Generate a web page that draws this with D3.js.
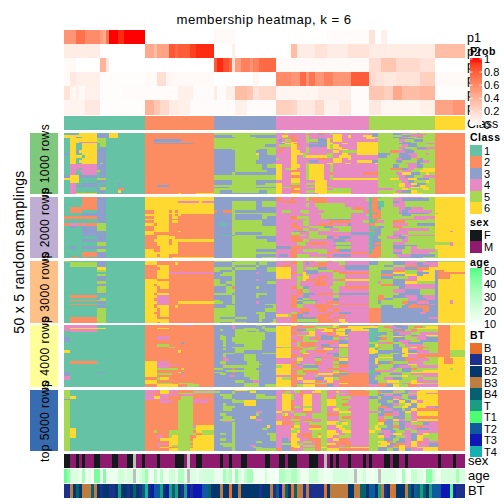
<!DOCTYPE html>
<html><head><meta charset="utf-8"><script src="https://cdn.jsdelivr.net/npm/d3@7"></script>
<style>html,body{margin:0;padding:0;background:#fff}svg{display:block}text{font-family:"Liberation Sans",sans-serif;fill:#000}rect{shape-rendering:crispEdges}</style></head><body>
<script>
// Class labels of the columns, as run lengths
const classCounts=[27,23,21,31,22,10];
const classColors={a:"#66C2A5",b:"#FC8D62",c:"#8DA0CB",d:"#E78AC3",e:"#A6D854",f:"#FFD92F"};
const classLabels=["1","2","3","4","5","6"];
// Membership probabilities: "startColumn:value" runs
const p1="0:.55 4:.72 7:.6 12:.5 13:.45 14:.7 15:1 18:.95 20:1 27:0 50:.03 57:0 88:.02 102:.15 104:0 106:.08 108:0";
const p2="0:.1 12:0 27:.45 30:.35 31:.48 35:.82 37:.75 38:.8 42:.9 44:.95 50:0 56:.08 57:0 75:.02 76:.35 78:.1 84:.15 88:.1 95:.15 102:.1 124:.35";
const p3="0:.03 4:0 12:.4 14:.12 15:0 50:.8 51:.95 53:.85 55:.75 56:.15 57:.5 59:.65 62:.55 63:.65 65:.75 71:.03 102:.18 106:.3 111:.2 119:.15 124:0";
const p4="0:.03 2:.12 4:.08 12:.01 27:.03 31:.17 34:.05 36:.03 50:0 63:.05 65:0 71:.6 76:.55 79:.75 81:.55 82:.7 84:.55 87:.65 90:.55 96:.8 102:.2 104:.15 107:.12 111:.15 119:.25 124:.03";
const p5="0:.15 2:.05 4:.08 5:.03 7:.07 12:.01 19:.02 27:.02 38:.08 43:.02 50:.1 51:.02 54:.08 57:.35 61:.3 63:.15 65:.2 71:.05 85:.09 96:.02 102:.3 107:.25 110:.45 113:.35 119:.38 124:.01";
const p6="0:.06 7:.12 12:.01 27:.4 30:.3 32:.2 35:.1 38:.08 42:.02 57:.08 61:.02 71:.25 76:.22 78:.12 84:.2 87:.07 92:.12 96:.02 102:.12 106:.05 119:.08 124:.48 130:.55";
const probRows=[p1,p2,p3,p4,p5,p6];
const probLabels=["p1","p2","p3","p4","p5","p6"];
const probTicks=[0,.2,.4,.6,.8,1];
// Annotation tracks: "startColumn:value" runs
const sexRuns="0:F 2:M 4:F 5:M 6:F 7:M 10:F 12:M 16:F 18:M 21:F 23:N 24:M 26:F 27:M 31:F 32:M 37:F 40:M 41:N 42:M 44:F 46:M 52:F 53:M 55:F 56:M 59:F 61:M 67:F 69:M 72:F 74:M 75:F 78:M 82:F 85:M 87:N 88:M 89:F 90:M 91:F 92:M 95:F 96:M 100:F 101:M 102:F 103:M 107:F 109:M 110:F 112:M 114:F 115:M 125:F 126:M 130:F 131:M";
const ageRuns="0:46 1:38 2:22 3:20 5:16 6:34 7:14 8:18 9:12 10:44 12:14 13:42 14:16 18:24 20:18 21:22 23:N 24:18 25:22 26:28 27:36 28:15 30:30 31:14 32:30 33:15 35:24 37:16 38:32 40:18 41:N 42:20 44:16 45:22 47:24 50:16 53:34 54:24 55:32 56:12 57:38 58:22 59:16 60:26 61:34 63:14 67:24 68:14 71:12 72:32 74:26 76:32 78:24 79:15 82:26 85:18 87:14 88:16 90:22 95:20 97:N 98:18 100:24 101:15 104:18 105:N 106:20 111:14 113:34 114:14 116:26 118:20 120:14 121:40 123:26 124:14 126:22 131:34 132:22";
const btRuns="0:B1 2:B3 3:B2 4:B4 5:B2 6:B3 9:B4 10:B3 11:B2 12:B1 13:B2 15:B1 17:B2 18:T 19:B2 21:B1 22:B2 23:B4 24:B2 25:B1 26:B4 27:T4 28:B2 29:T3 30:T2 32:T 33:B2 34:T3 35:T 36:B4 37:T 38:B2 39:B1 40:T 41:T3 42:B1 43:T3 46:T2 48:B4 49:B2 52:B3 53:B2 55:B 56:B2 58:B3 59:B2 65:B1 66:B2 69:B3 70:B1 71:B4 72:T3 73:B3 74:B4 75:B2 76:B 77:B4 78:B3 80:B1 81:B3 82:B1 87:B 88:B2 89:B3 95:B2 97:B3 99:B4 101:B2 102:T2 104:B2 105:T 106:B3 107:B1 108:B2 109:B 110:B3 111:B2 114:B3 115:B4 116:B2 117:T2 118:B4 119:T 120:B4 121:B2 122:T 123:T2 126:T3 129:T1 130:T3 131:B1";
const sexColors={F:"#14191C",M:"#8E1B6E"};
const btLevels=["B","B1","B2","B3","B4","T","T1","T2","T3","T4"];
const btColors=["#E9702A","#1C318C","#03366C","#BE7C3F","#05606F","#1A9E83","#4CFF70","#0F5A9E","#0F17B5","#17B0B0"];
const ageTicks=[10,20,30,40,50];
const naColor="#BEBEBE";
// Consensus membership per block: "repeat:" then class-letter + start column runs
const block1=[
"1:a0f5a11f15a18b27e50d71e74d75e81d82b85d88e89d90c103e105c110d113e116c118e119b124",
"1:a0c2a4f5c11f15a18b27e50d71b73d74b81d82c85d87e89f90d93c103e105c110e113d116e121b124",
"1:f0c11f15a18b27c50e56c62d71f73d75b76d78e81d82f90d93f95d96f100c103e105e110c113d116b118e120b124",
"1:f0c4a5f6c11f15a18b27c50e57c64d71e73b75d77e81d82f90d93f95d96f101e105c110d113e115c118e120b124",
"1:a0f2e11a14b27e50d71b74d75b76d78e81d82c85d87f88e89f90d93f101d104e105c112e117b124",
"2:a0f2e11a14b27c30e38c38b39e50d71c72d73e74d76b76d78e81c85f88d89f90d93e105d112e114c117e120b124",
"1:a0f2d5e11a14b27e50d71f73d74f76d78e81c82f88e89d90f98e105c113e116e119b124",
"1:a0f2a4f6a11e12a14b27c30b39c39b43e50d71c72f74d77c85f88d90f93d95f98f101e105c112e118d121b124",
"2:a0f2a4f6a11e12a14b27e50c67d71e72d76f76b78d79c82f88e89f90d92f98e105d113c115e118b124",
"2:a0f2a4f6a11c12a14b27e50d71b72d74f76d78e81d82f88e89f90d93f98e105d112e114c118d121b124",
"1:a0f2a4f6c11a14b27c50e56c65e68d71f76d78e81d82e89d90f92d95f98f101e105c113e116d118e122b124",
"2:a0f2c4f5c11a14b27c50e57c64e68d71b72d73f76d79e81d82d88f90d92e93f98f103e105b109d112c114e117b124",
"2:c0a2f2a4f6c11a14b27c50e57f64c65e68d71f76e80d81e88d90f93d95f98c105e109c112d115e118d121e122b124",
"2:a0f2a6f7c11a14b27c50e57c65d71f76d78e80f81e88d90f92d96c105e108c112d116e118b124",
"2:a0f2a4f6c11a14b27c50e57c65e71d72f76d78d82b85d88f90d93f95d96e105d111c113e116b118c119e120b124",
"2:a0f2a4f5c11a14b27c50e57e64c64d71f76d78c82d85f90d93f98c103e105c111e113c118d120e122b124",
"1:a0f2a4f6c11e12c13a14b27c50e57c64d70f76d78e81d82f88d90f94d96f104e105e110d114c118e119b124",
"3:a0d2c11a14b27c50e57c66e68d71f71d73f76d79e81f82d87e89d90d96e105c110e112d115c118e120b124",
"2:a0d2a5d6c11a14b27c50e57c66d71f71d73e74f76d78e81f82d87e89d90e105b109c113d115e117f120b124",
"1:a0a2d2a4d5e11c12a14b27c50e57c68d71f71d73b76d79e81f82d87e89d90d98e105d113e116f119b124",
"3:a0d2a4d6a11c12a14b27c50e56c57d71f71d73f76d79e81f82d87b89d90b100e105d111f113c116e119f121e122b124",
"2:c0f2c5a11c12a14b27e50d71f71d73b76d79e81f82d87e89d90e105d112c114e117d120b124",
"2:f0f2a5e11a14b27e50d71f71d73f76d79e81f82d87e89f90e105f109d112f115c118e122b124",
"2:a0f2a5c11a14b27c50e56c64d71d73f76d79d82f84d88d96e105d113c115e117f121e122b124",
"2:a0d2a4c6a11a14c18a19b27c50e56c64e67d71f71d73e76d79e81f84d88e105f112d114f116c118e121b124",
"1:a0d2c4a11c12a14a17b27b30c31b35e50d71f71d73b76d79f84d88d90d96e105e110f112d114c117f119e121b124",
"1:a0d2a4c11e12a14c18a19b27c50e55c64d71f71e73b76d79e81f84e88d90e105e110d114f116f120e122b124",
"2:a0d2a4c11e12a14b18a20b27e50d71f71d73b76f77d79f84d88e90d96d105e110f113e115e117f120e122b124",
"2:a0d2a4c11a14f18a19b27e50c52e56c65e68d71f71d73b76d79e81f84e88d96e105d111c113f116e118b124",
"1:a0d2a4f4a11a14c18a20b27f38b39f44f45e50c52a65e68d71f71d73f76d79f85d96e105f110e112f116e120b124"
];
const block2=[
"1:a0b6c11a14f27e50c50d71b71d73b76d78e81b82d87d102a102b103a105e106d112e120f124",
"2:a0b6c11a14f27c50d71b71d73b76d77e81d82b82d88d96e101a102b103e105d110c113e122f124",
"2:a0c6b6c11a14f27d38f45d46c50e56d64c64e66d71b73d76b76d78d82b84d88d95a102b103a105e107c110d112e114f124",
"3:a0b6c11a14f27c50e56c64e66d71d73e81d82e84d94a102b103a105e107d110e114f124",
"2:a0b2a6b6c11a14f27c50e56c64e71d71d73d82e85d96b97d100a102b103c105e106d112c114d116e120f124",
"2:a0b2a6c11a14b27f30b35f36b37f38c50b50c51b53c56e56e57c57c71d71e73d76e79d82d85e87d100b101a102b103e106d112c113d115e123f124",
"1:a0c6c11a14b27f30f38e50c50e56d71e80d82e85d96a102c104b105e106c112e122e124f125",
"2:a0c6c11a14f27f30b35f36b37f38b39c50e56c57e66d71d82e86d96e101a102b103e106c113e116f124",
"2:b0c11a14b27f30b35f36b38c50e56c57e66c68d71b76e78d82e86d96a102b103e106e113d117f124",
"1:a0c11a14f27f30b35b39c50e56c57c65c68d71b76d79e81d82c88d96a102e105e110d112e121f124",
"2:a0c11a14b27f30b35f36b38c50e56c66d71e80d82b89d96e100a102b104d105e107b110e114f124",
"2:b0d2b5d6b7e11a14b27f27b30f31b35c50a52c54e56c66d71b76d78e80d82b85d90c95d96b102e104d110e115c118f124",
"2:a0c2a4c6a11e11a14b27f30b35c50e56e64e66d71b76d79e82c87e90d96a102b104c105e107b110e113f124",
"2:a0c6e11a14f27b27f30b35c50e56e66d71d76b78e80d82e85d89e92d96a102c104e106d112e122f124",
"1:a0c6c11a14f27b30f30b35f38b39c50e56d71c77d81e82d85e90d96b102c104e106d110e115f124d129f130",
"2:a0c6c11a14b27f27b30c50e56c57e66d71e76d79e82d85d90c96a102c104e106d110e115e122f124",
"1:a0c6c11a14f27b27f31b35c50a52c56e57e66d71b76e79d81e82d88b90d92d96a102c104b105e106c110e113d115f124",
"2:a0c11a14b27f31b37c50e56c64c68d71b76d79e82c88d90c92d96a102c103e105d108c112d114e115f124",
"3:a0c6c11a14b27f30b35f36c50c50e56e66c68d71b76e80d82c90d94a102c103e106e111d113e115f124",
"2:a0c11e11a14b27f31b35f36b38c50e56d71e78d81b82d88e91d96a102c103b104e106d110e114e124d129f130",
"1:a0e11a14b27f31b38b39e50c50e56d71e79d81d82c90d96a102c103e106c110e118f124d129f130",
"2:a0c2a4c6c11a14b27f32b38c50e56e66d71c71d76b76d80d88e91d96a102c103b104e106c110e114d116e118f124",
"2:a0e11a14f27b30f32b38c50e56c64c68d71b76d78e80d88b90c92d96a102b103e106d110e113d116e124f125",
"2:a0c6b6c11a14b27f27f32b38c50e56d71b76d78d82e85b88d90b96a102b103e106c110e113d116e122e124f125",
"2:a0b6c11a14f27b31f32b35c50e56c64d71c72d75b76e78d82c90d96b102b104e106d111c116e124f125",
"1:a0b2a5c11a14f27b35f36c50e56c64e66d71b76e78b88d90b95d96b102e105e107c112e120e124f125"
];
const block3=[
"1:e0a2c11a14f27b31e50c56e57d71b73e78b80e84b88e90d94c102e105c110d114e118c121e125",
"2:a0e2c11a14f27b31b35f37b38c50e56c64e65c68d71b76e78d80c81d82b85d88e92d94c102e105c110d114c118d120f125",
"2:a0e2c11a14b27f31b35c50e56c57e64c65c68d71b73d76e78d80b84d88d92b93c94e102c107e110b114c118d122f125",
"2:a0f11a14b27b31f32b35e50c56e57c64c65e68d71f71d76b78e78d80e81c85d88c94e102e106d110c114b118f122f125",
"2:a0e11a14b27f31b35c50e50c52e56c57c64c65e68d71f71d76e78d80c81e85b90d92e102c106b110e114d118f120c124b125f127",
"1:a0a11a14b27f31b35d35c50e53e56c57d64c65d71f71b76e78f80c81d85e90b92e102c106f110e114c118f122c124b125",
"2:a0e11a14b27f31b35c50e52e56c57c65d71f71d76d79f80e81d82e90d94e102b106c110f114c118f120c124b125f129",
"2:a0c11a14b27f31b35c50e56c57c64c65d71f71d76e78f80d82b85d88e90d94e102c106e110d115f118f122c124b125f129",
"2:a0c11a14f27b31b35e50c52e56c57d64c65d71d76b78e78f80b81d86b92f94e102e106c110d114f118c124f125",
"2:a0e11a14f27f30b31f31b35e50c52e54c57c64e68d71d76e78d79b84d88e90d94e102d105e106c110f114e118c124f125",
"2:a0c11a14f27b30f31b35e50c54e56c57c64d71e78d79b84d88e90d94e102b106c110d114c124f125",
"2:a0e11a14f27b31f32b35c50e54b56c57e64c65d71b76e78c80d82e89d92b94e102e106c112d114c124f125",
"3:a0e11a14f27b31b35c50e54c57c64c68d71d76b78e80d82e90d92e102e106d110c114e119c124f125",
"2:a0c11a14f27b30f31b35e50e52c56c57e64c68d71d76b78c80d84b85d90c92e102e106c112e119c124f125",
"2:a0b2a11a14f27d31b35c50e56c57e64c65d71b76d78c80d82e90d92e102b105e107c110d114c118d120c124f125",
"2:a0c11e12a14f27b30d31b35c50e56c57c64d71b76c78e80d82c90d92e102b105c107e110d115c118d121c124f125",
"1:a0b2e11a14f27b30d31b35e50c52e56c57c65d71b76e78c80d85c90d92e102c105e106e110d115c118b119c121f125d129f130",
"2:a0c11a14f27f30b31d31b35f38e50c53e56c57d64c65d71b76c78e80d84b88d92e102c105e106e110b113c115d118c122f125d129f130",
"1:a0b2a11a14f27b30d31b35c50c54c57c65e67d71b76e78d80b84d88e90b92e102e106e110c114b116c118d122c124f125",
"2:a0c11a14f27b30f31b35f37b38c50e54c57c65e70d71b76e78d80b84b88d90e102c106e110c113b115b119c122f125",
"3:a0e11a14f27b31f32b35e50c57c64e67d71d76b79d82b85d88b90d92b102c106c110c114b120c122f125",
"2:a0e11a14f27b30f32b35e50c57e64c67d71e76b78c80d82b88d90c92d96b102c106c110d119c121f125",
"2:a0e11a14f27b31f32b35e50e54c57c64e65c67d71f71e75b76c78d80b85d89b92d94b102b105c106c110f125",
"2:a0b2e11a14f27b31b35e50c52e57c61c64e65c67d71b76c78b84d88b90d92b102c106c110d122f125",
"2:a0b2e11a14f27f32b35e50e52c57c64e65c66e70d71b76e78b85d90f92d94b102b105c106c110f125",
"1:a0b2e11a14f27b31f32b35e50c52e56c61c64c66e69f70d71b76c78b84b88d92f93d95b102b105c106c110f125"
];
const block4=[
"1:d0a11b27d39b43c50d56c57e64c66d71f76b78c79e80d84b89f90a92c94d102c104e105c110d113e115e120b125f129",
"1:d0a11b27c50d56c57e66c67f71b76d78b79e84f90e91b92f95e105b107d109c111e115b117e120f121b125f129",
"1:d0f2f13a14b27f31b35c50d56c57e60c64e66d71f71b76d79e81f85b88c90b91f92a95f95a100c102e105d109c113e115f118f121b125f129",
"1:d0a11b27c50e52c53e57e64c65e67d71f71d76c78e81d84f87b90f91c94f96c102a102e105c110e114b116e118b125f129",
"1:a0d2a11b27c50e57c61e64c65e68d71f71b76b78e80f82d84f86b90e91c94d96a102c104e105b109d114e118e124b125f129",
"2:a0b27c50e57e64c67d71f71b76d78f82d84b88d90f91c94d95a102c106e108c110d112e116d119b125f129",
"1:a0b27c50e52c53e57e64c67d71f71d76e78f81d84c86d88b90f92d95a102c104e106c110e114c116d118f121b125f129",
"1:a0b27b31d31b35c50e52c54e57e64c67d71f71d76b78e80d84c86b90d92c94d95a102e105f110e113d116e122b125f129",
"2:c0a2b27d31b35c50e52e53c54e56e64c67d71f71d76b79e80d82b84c86e90d92e94d95a102c104b106e108c110e114d118c121b125f129",
"1:c0a2b27c50e53c54e56e64c66d71f71b76d78e80d85b90c92d95a102e105c110d112e116c119b125f129",
"2:a0b27b35c39b40c50e53c54e57c66d71f71d76e78b79d84b88d90c92d95e102d105b108e110d113c115e120b125f129",
"2:a0b27e31b35c50e53c54e60c66d71f71d76e78b79d84c86d89f92d95a102f104e105c110e112d114e120b125f129",
"1:a0b27e35b37c50c53e56e60c66d71e73b76e79d80e82b85c89d92d95e102b105e106c110e113f116b118e122b125f129",
"1:a0b27c50e53c54e57e60c66d71f71b76e80d84f87d90e92d95f102a104e105c110f113d115b118e120b125f129",
"2:f0a2b27f38b39c50e57c60c66d71f71d76e79d81b84d88e92d95f102c105c110f113c115d118e122b125e129",
"1:a0b27c50e53c57c64e66d71f71d76b78f80d82c88e92d95f102a104c105e109c112f114d118b125e129",
"2:a0b27c50e53c54e60c64d71f71b76d78b80d82c90e92d95c102e105c110f113d115b118b125e129",
"1:a0b27c50d53c54e60c64d71f71d76b76e78d80c84b86e90d92d95c102f105c110d115b118e121f125b127f129",
"2:a0b27c50e53d53c55e60c64d71d76f78d80e84d86b90f92d95c102f104e105c110b114d118e122f125b127b129f130",
"2:a0b2a11b27f27d31b35c50e52c54e61c65d71b76e78d79b84d86e90c92d95c102f104c105b109e110d115e120f125b127b129f130",
"1:a0b27f27d31b39c50d53c54e61c66d71f71d76c78e80b84d86b90b92d95c102b104e106c110f115d118e120f125",
"2:a0b27f27d31b35c50e53e60c65d71e71f73b76d78c80d85e90b92d95c102e105c110d112e116d118f125",
"2:a0b27f27e31b38f39b40c50e50c53b56c57e60c64d71f71d76b78e80d85b88d92d95c102e104d109e111c113b116e118f125e129f130",
"1:a0b27f27b31c50e54e60c65d71f71b76e78b80d85e90b92d95a102b104d106e110c113e116f120f125",
"1:c0a2c11a14b27f27b31f38c39b40e50c53b56c57e60c65d71f71d76e78b80d85f90e92d95a102c104e106d110e113f116f125",
"1:c0a2b27f27e31b36c50e52c54e60c65d71f71b76e78d81f85b90c92d95b95a102c104e106c109e113d116f125",
"1:c0a2b27f27b31b38d39b40c50c53d55c57e60c65d71b76d80e84d85c90b92b95c102d104e105f113e115d120f125",
"1:d0a2b27f27b31b38d39b40c50c53d55c57e60c65d71b76d80e84d85c90b92b95c102d104e105f113e115d120f125",
"2:d0a2b27e31f32b35b37c50c54c60e62c65d71f71e73b76f78d80c84f87e90b92b95c102e104d107c110e113d118e120f125",
"2:a0b27f27b31c50e57c60d63c65d71f71b76d78f80b84d86f88d90b92b95c102e105f108e112f116d118f125",
"1:a0b27f27e31b36f38e38b43c50e60c65d71f71b76c78d80e84b88d90f92b95c102b105d107e110d113f116e120f125",
"2:a0b27f31b38e41b45c50e60c65e67d71f71b76e78f80b84c88d90b92b95d102b105c108f110e112b115d118f125"
];
const block5=[
"1:e0a2d27b31f32d35b38d43c50f57e61c64d71b73d75e77b79d82f84d86e86d88b90d92b95e101c105d110e112c114d116f119b125",
"1:e0a2d27b31f32d35b38e43c50e50c52e56c57f62c64d71e74d76e77b79d80f83e86d88f91d92b95e102b105c106e110c114d115f118b125",
"1:e0a2d27b28d31f32b35e38d43c50e56c57c64d71e73d75b79d80b84e86b88d90e92d94b96e102b105e106d110c113e115f118d121b125",
"2:e0a2d27b30d32b38d39b43c50e52c56c57e64c67d71f73e76d77b79f80d83e86d88e91d92b95e102c105d107c110e113d115f118b125",
"2:e0a2f2a4d27f30d32b35b38e39b43c50e53c56c57e64d71f73e76d77f80d83e86d88b90e91d96c102e105c106d110e113c115f118b125",
"1:c0e2a2d27d31b33b38e39d43c50e56c57c64d71f73e76d77f80d83e86f88e91b93d95e102b105c106f110c112e114d116f118b125",
"2:e0a2b27d32b36e38b43d43b48c50e56c60f60c64d71f73b76d77f80d83e86f88e91d95e102c105e108c110f112c114f116d118f120b125",
"2:e0a2b27e38b43c50e53c54c60f60c64d71f73b76d77f80d83e86f88e91b93d95e102e105c106d110e112f114c116f118b125",
"2:e0a2b27e38b43c50e53e56c57c64d71f73b76e77d79e80d83e86d88e91d96e102b105c108e110f113c115f118d121c124b125",
"2:e0a2b27e38b43c50e53c56c57c64d71f73b76d77f80d83e86d88f90e92d95e102c105d107c110e113c114f116b118b125",
"2:e0a2b27b38e38b43c50c53c56c57d64c66d71f71d73e76d77b80d83e86d88e92f92d96d102e105c106d110c112f114d116f118b125",
"2:e0a2b27e38b43c50e52c54c57c60e64c65d71e73f74d75e77d81e83e86b88e92d96e102c105b107d110c112e114d116f118b125",
"2:e0a2b27e38b43c50e53c56c57f62c64d71b73d76b77d79e83e86d88e92b93d96e102d105e107c110c112e114d116b118b125",
"2:e0a2b27e38b43c50e52e56c57c60d64c66d71d73e76d79b80d83e86d88e92d96e102b105c108f110d112e114d116f118b125",
"1:e0a2b27e38b43c50d53c56c57c62d71f71b73b76d79e80d83e86f88d92e94d96e102b105c107d110c112f116d118b125",
"2:e0a2b27e38b43c50e56c57c64d71f71b73d76e77d79e82e86f88e91f93e95d96e102f105c107e110c112d114e116c120d122b125",
"2:e0a2b27b37e38d43f44c50e56c57f68c69d71b76f77d79b82e86d88f91e93d96e102f104e105c108b110c112d114d116b118d120b125",
"2:e0f2a4b27e38f44c50e56c57c64e66c68d71f76e77d79f82e86d88f92e94d96e102f104c106e110c112e114d116c118d122b125",
"2:e0f2a4b27e30b31e35b38e38b43f44e46b50c50e56c57c64d71e76f78d79e83e86f88d91f93d96f102e104d106c109e111d114e116d118b125",
"2:e0f2a4b27e35b38e38b44e46c50c51e52c54e56c57c65e68d71f76d78b79e83b85e86f88d92e94d96e102c105d107f110d113c116d118f120e122b125",
"2:e0f2a4b27d31b33e35f36b38e38b42f44c50c54e56c57c66e69d71f76d78b80e83f85e86f88d90e92d96e102f105d107c109e111d114c116f118e120b125",
"2:e0a2b27b31f32f35b38e38b42f43c50e52c54e56c57c65e69d71c73d75f76d79b82e86d88f90b92d95e102e105c107e110c112d114c116f118d120e122b125",
"2:e0a2b27b31f35d38b39e38b43f43c50c53e56c57e64c66d71c73f76d78e80d83b84e86d88b92d96e102f105b108e110c111d114f116b118d120b125",
"1:e0a2b27d31f35b38e38b42f43c50e52e54e56c57c64c66d71e73f76e78d80b84e86f88b91d96e102e104f106c109b111d114f116d118c122b125",
"2:e0a2b27d31b32f35e36b38e38b43f43c50e53e56c57d62c64d71c73f76d79e80b84e86b88d92b94d96e102f105c108b110f112d114f116d118c122b125",
"1:e0a2b27f32b35e38b42f43c50e56c57e63e64c66d71c73b76f77d79b84f86d88e92f96e102c105d108e110f112b114d116f118b125",
"2:e0a2b27f35e38f42c50c53e56c57e64b71c73b76d78e80b84e86f88b92b96e102c105e108c110f112c114d116d118f120b125"
];
const blockRows=[block1,block2,block3,block4,block5];
const blockLabels=["top 1000 rows","top 2000 rows","top 3000 rows","top 4000 rows","top 5000 rows"];
const blockColors=["#7FC97F","#BEAED4","#FDC086","#FFFF99","#386CB0"];
const classLegend=classLabels;

const expand=(s,n)=>{const t=s.trim().split(/\s+/).map(r=>{const i=r.indexOf(":");return [+r.slice(0,i),r.slice(i+1)]});
  return t.map((r,i)=>({start:r[0],end:i+1<t.length?t[i+1][0]:n,value:r[1]}))};
const nCols=d3.sum(classCounts);
const parseRow=s=>{const [rep,body]=s.split(":");const runs=[...body.matchAll(/([a-f])(\d+)/g)].map(m=>({k:m[1],s:+m[2]}));
  return {rep:+rep,runs:runs.map((r,i)=>({k:r.k,s:r.s,e:i+1<runs.length?runs[i+1].s:nCols})).filter(r=>r.e>r.s)}};
const W=504,H=504;
const svg=d3.select("body").append("svg").attr("width",W).attr("height",H);
const x=d3.scaleLinear().domain([0,nCols]).range([64,465]);
const prob=d3.scaleLinear().domain([0,1]).range(["#FFFFFF","#FF0000"]).interpolate(d3.interpolateLab);
const ageC=d3.scaleLinear().domain([10,50]).range(["#FFFFFF","#4DFF88"]).interpolate(d3.interpolateLab);
const btC=d3.scaleOrdinal(btLevels,btColors);
const band=(g,runs,color)=>g.selectAll("rect").data(runs).join("rect")
  .attr("x",d=>x(d.start)).attr("width",d=>x(d.end)-x(d.start)).attr("fill",color);

// title
svg.append("text").attr("x",264).attr("y",24).attr("text-anchor","middle").attr("font-size",13.2).attr("letter-spacing",".45").text("membership heatmap, k = 6");

// probability rows and their labels, below the legend
const track=d3.scaleBand().domain(probLabels).range([30,114.5]);
probRows.forEach((s,i)=>{
  const g=svg.append("g");
  band(g,expand("0:0 "+s,nCols),d=>prob(+d.value)).attr("y",track(probLabels[i])).attr("height",track.bandwidth());
  svg.append("text").attr("x",467).attr("y",track(probLabels[i])+track.bandwidth()/2+4.5).attr("font-size",12.5).text(probLabels[i]);
});
// class annotation
let cum=0;const classRuns=classCounts.map((c,i)=>{const r={start:cum,end:cum+c,value:"abcdef"[i]};cum+=c;return r});
band(svg.append("g"),classRuns,d=>classColors[d.value]).attr("y",116).attr("height",14);
svg.append("text").attr("x",467).attr("y",127.5).attr("font-size",12.5).text("Class");

// blocks
const blockTops=[133,197,261,325,390],blockH=[61,61,62,62,61];
blockRows.forEach((rows,b)=>{
  const parsed=rows.map(parseRow);const total=d3.sum(parsed,d=>d.rep);
  const y=d3.scaleLinear().domain([0,total]).range([blockTops[b],blockTops[b]+blockH[b]]);
  let pos=0;const g=svg.append("g");
  const cells=[];parsed.forEach(r=>{r.runs.forEach(c=>cells.push({r:pos,n:r.rep,...c}));pos+=r.rep});
  g.selectAll("rect").data(cells).join("rect")
   .attr("x",d=>x(d.s)).attr("width",d=>x(d.e)-x(d.s))
   .attr("y",d=>y(d.r)).attr("height",d=>y(d.r+d.n)-y(d.r))
   .attr("fill",d=>classColors[d.k]);
  svg.append("rect").attr("x",30).attr("y",blockTops[b]).attr("width",28).attr("height",blockH[b]).attr("fill",blockColors[b]);
  svg.append("text").attr("transform",`translate(48.5,${blockTops[b]+blockH[b]/2+1}) rotate(-90)`).attr("text-anchor","middle").attr("font-size",12).attr("letter-spacing",".45").text(blockLabels[b]);
});
svg.append("text").attr("transform","translate(24,252) rotate(-90)").attr("text-anchor","middle").attr("font-size",14).attr("letter-spacing",".3").text("50 x 5 random samplings");

// bottom tracks
band(svg.append("g"),expand(sexRuns,nCols),d=>sexColors[d.value]||naColor).attr("y",454).attr("height",14);
band(svg.append("g"),expand(ageRuns,nCols),d=>d.value==="N"?naColor:ageC(+d.value)).attr("y",469).attr("height",14);
band(svg.append("g"),expand(btRuns,nCols),d=>btC(d.value)).attr("y",484).attr("height",14);
[["sex",465],["age",480],["BT",495]].forEach(([t,yy])=>svg.append("text").attr("x",468).attr("y",yy).attr("font-size",13).text(t));

// legends
const title=(t,yy)=>svg.append("text").attr("x",470).attr("y",yy).attr("font-size",10.5).attr("font-weight","bold").attr("letter-spacing",".5").text(t);
const probGrad=svg.append("defs").append("linearGradient").attr("id","pg").attr("x1",0).attr("x2",0).attr("y1",1).attr("y2",0);
d3.range(0,1.01,.1).forEach(v=>probGrad.append("stop").attr("offset",v).attr("stop-color",prob(v)));
title("Prob",55);
svg.append("rect").attr("x",470).attr("y",58).attr("width",12).attr("height",67).attr("fill","url(#pg)");
const py=d3.scaleLinear().domain([0,1]).range([124.5,59]);
const pAxis=svg.append("g");
probTicks.forEach(v=>{
  pAxis.append("line").attr("x1",470).attr("x2",472.5).attr("y1",py(v)).attr("y2",py(v)).attr("stroke","#fff").attr("stroke-width",.8);
  pAxis.append("line").attr("x1",479.5).attr("x2",482).attr("y1",py(v)).attr("y2",py(v)).attr("stroke","#fff").attr("stroke-width",.8);
  svg.append("text").attr("x",484).attr("y",py(v)+4).attr("font-size",11).text(v);
});
title("Class",141);
const sw=(c,yy,lab)=>{svg.append("rect").attr("x",470).attr("y",yy-5.7).attr("width",11.5).attr("height",11.4).attr("fill",c);
  svg.append("text").attr("x",484).attr("y",yy+4).attr("font-size",11).text(lab)};
classLegend.forEach((l,i)=>sw(classColors["abcdef"[i]],150.5+i*11.5,l));
title("sex",226);
sw(sexColors.F,235.3,"F");sw(sexColors.M,246.8,"M");
title("age",266);
const ag=svg.select("defs").append("linearGradient").attr("id","ag").attr("x1",0).attr("x2",0).attr("y1",1).attr("y2",0);
d3.range(0,1.01,.1).forEach(v=>ag.append("stop").attr("offset",v).attr("stop-color",ageC(10+40*v)));
svg.append("rect").attr("x",470).attr("y",268).attr("width",12).attr("height",58.5).attr("fill","url(#ag)");
const ay=d3.scaleLinear().domain([10,50]).range([324,270.5]);
ageTicks.forEach(v=>svg.append("text").attr("x",484).attr("y",ay(v)+4).attr("font-size",11).text(v));
title("BT",339);
btLevels.forEach((l,i)=>sw(btColors[i],348.3+i*11.47,l));
</script></body></html>
